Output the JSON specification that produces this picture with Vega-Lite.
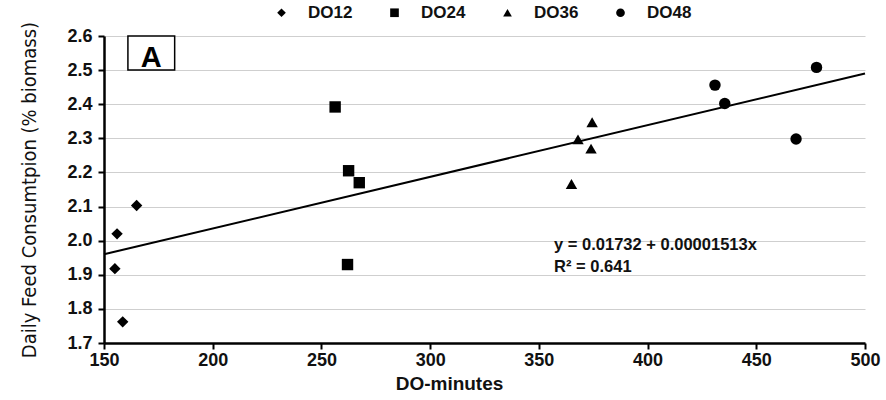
{
  "$schema": "https://vega.github.io/schema/vega-lite/v6.json",
  "width": 761,
  "height": 307,
  "autosize": {"type": "none"},
  "padding": {"left": 104, "top": 36, "right": 21, "bottom": 57},
  "background": "white",
  "config": {
    "view": {"stroke": null},
    "font": "Liberation Sans",
    "axis": {
      "domainColor": "black", "domainWidth": 2.5, "tickColor": "black", "tickWidth": 2, "tickSize": 6,
      "labelFont": "Liberation Sans", "labelFontWeight": "bold", "labelFontSize": 18, "labelColor": "#111",
      "titleColor": "#111", "labelFlush": false, "labelOverlap": false
    }
  },
  "datasets": {
    "pts": [
      {"group": "DO12", "minutes": 156, "feed": 2.02},
      {"group": "DO12", "minutes": 155, "feed": 1.918},
      {"group": "DO12", "minutes": 158.6, "feed": 1.762},
      {"group": "DO12", "minutes": 165, "feed": 2.103},
      {"group": "DO24", "minutes": 256.3, "feed": 2.392},
      {"group": "DO24", "minutes": 262.5, "feed": 2.205},
      {"group": "DO24", "minutes": 267.4, "feed": 2.17},
      {"group": "DO24", "minutes": 262, "feed": 1.93},
      {"group": "DO36", "minutes": 374.5, "feed": 2.347},
      {"group": "DO36", "minutes": 368, "feed": 2.297},
      {"group": "DO36", "minutes": 374, "feed": 2.27},
      {"group": "DO36", "minutes": 365, "feed": 2.166},
      {"group": "DO48", "minutes": 431, "feed": 2.456},
      {"group": "DO48", "minutes": 435.5, "feed": 2.402},
      {"group": "DO48", "minutes": 468.3, "feed": 2.298},
      {"group": "DO48", "minutes": 477.7, "feed": 2.508}
    ],
    "fit": [
      {"minutes": 150, "feed": 1.96},
      {"minutes": 500, "feed": 2.49}
    ],
    "eq": [
      {"minutes": 357, "feed": 1.986, "label": "y = 0.01732 + 0.00001513x"},
      {"minutes": 357, "feed": 1.924, "label": "R² = 0.641"}
    ],
    "box": [
      {"x1": 161, "x2": 182.5, "y1": 2.5, "y2": 2.6, "cx": 171.75, "cy": 2.55, "label": "A"}
    ]
  },
  "layer": [
    {
      "data": {"name": "pts"},
      "mark": {"type": "point", "filled": true, "opacity": 1, "color": "black", "size": 130},
      "encoding": {
        "x": {"field": "minutes", "type": "quantitative",
          "scale": {"domain": [150, 500], "nice": false, "zero": false},
          "axis": {"values": [150, 200, 250, 300, 350, 400, 450, 500], "tickCount": 20, "grid": false, "title": "DO-minutes",
            "labelPadding": 2,
            "titleFont": "Liberation Sans", "titleFontWeight": "bold", "titleFontSize": 19, "titlePadding": 5, "titleX": 345}},
        "y": {"field": "feed", "type": "quantitative",
          "scale": {"domain": [1.7, 2.6], "nice": false, "zero": false},
          "axis": {"values": [1.7, 1.8, 1.9, 2.0, 2.1, 2.2, 2.3, 2.4, 2.5, 2.6], "tickCount": 20, "format": ".1f",
            "grid": true, "gridColor": "#cfcfcf", "gridWidth": 1.2, "labelPadding": 6,
            "title": "Daily Feed Consumtpion (% biomass)", "titleFont": "DejaVu Sans Condensed, Liberation Sans",
            "titleFontWeight": "normal", "titleFontSize": 20, "titlePadding": 27}},
        "shape": {"field": "group", "type": "nominal",
          "scale": {"domain": ["DO12", "DO24", "DO36", "DO48"], "range": ["diamond", "square", "triangle-up", "circle"]},
          "legend": {"title": null, "orient": "none", "direction": "horizontal", "legendX": 169, "legendY": -32,
            "symbolSize": 75, "symbolFillColor": "black", "symbolStrokeColor": "black", "symbolType": "circle",
            "labelFont": "Liberation Sans", "labelFontWeight": "bold", "labelFontSize": 17, "labelColor": "#111",
            "labelOffset": 18, "columnPadding": 33}}
      }
    },
    {
      "data": {"name": "fit"},
      "mark": {"type": "line", "color": "black", "strokeWidth": 2},
      "encoding": {
        "x": {"field": "minutes", "type": "quantitative"},
        "y": {"field": "feed", "type": "quantitative"}
      }
    },
    {
      "data": {"name": "eq"},
      "mark": {"type": "text", "align": "left", "baseline": "middle", "font": "Liberation Sans", "fontWeight": "bold", "fontSize": 16.5, "color": "#111"},
      "encoding": {
        "x": {"field": "minutes", "type": "quantitative"},
        "y": {"field": "feed", "type": "quantitative"},
        "text": {"field": "label"}
      }
    },
    {
      "data": {"name": "box"},
      "mark": {"type": "rect", "fill": "white", "stroke": "black", "strokeWidth": 1.5},
      "encoding": {
        "x": {"field": "x1", "type": "quantitative"},
        "x2": {"field": "x2"},
        "y": {"field": "y1", "type": "quantitative"},
        "y2": {"field": "y2"}
      }
    },
    {
      "data": {"name": "box"},
      "mark": {"type": "text", "align": "center", "baseline": "middle", "font": "Liberation Sans", "fontWeight": "bold", "fontSize": 29, "color": "black", "dy": 5},
      "encoding": {
        "x": {"field": "cx", "type": "quantitative"},
        "y": {"field": "cy", "type": "quantitative"},
        "text": {"field": "label"}
      }
    }
  ]
}
